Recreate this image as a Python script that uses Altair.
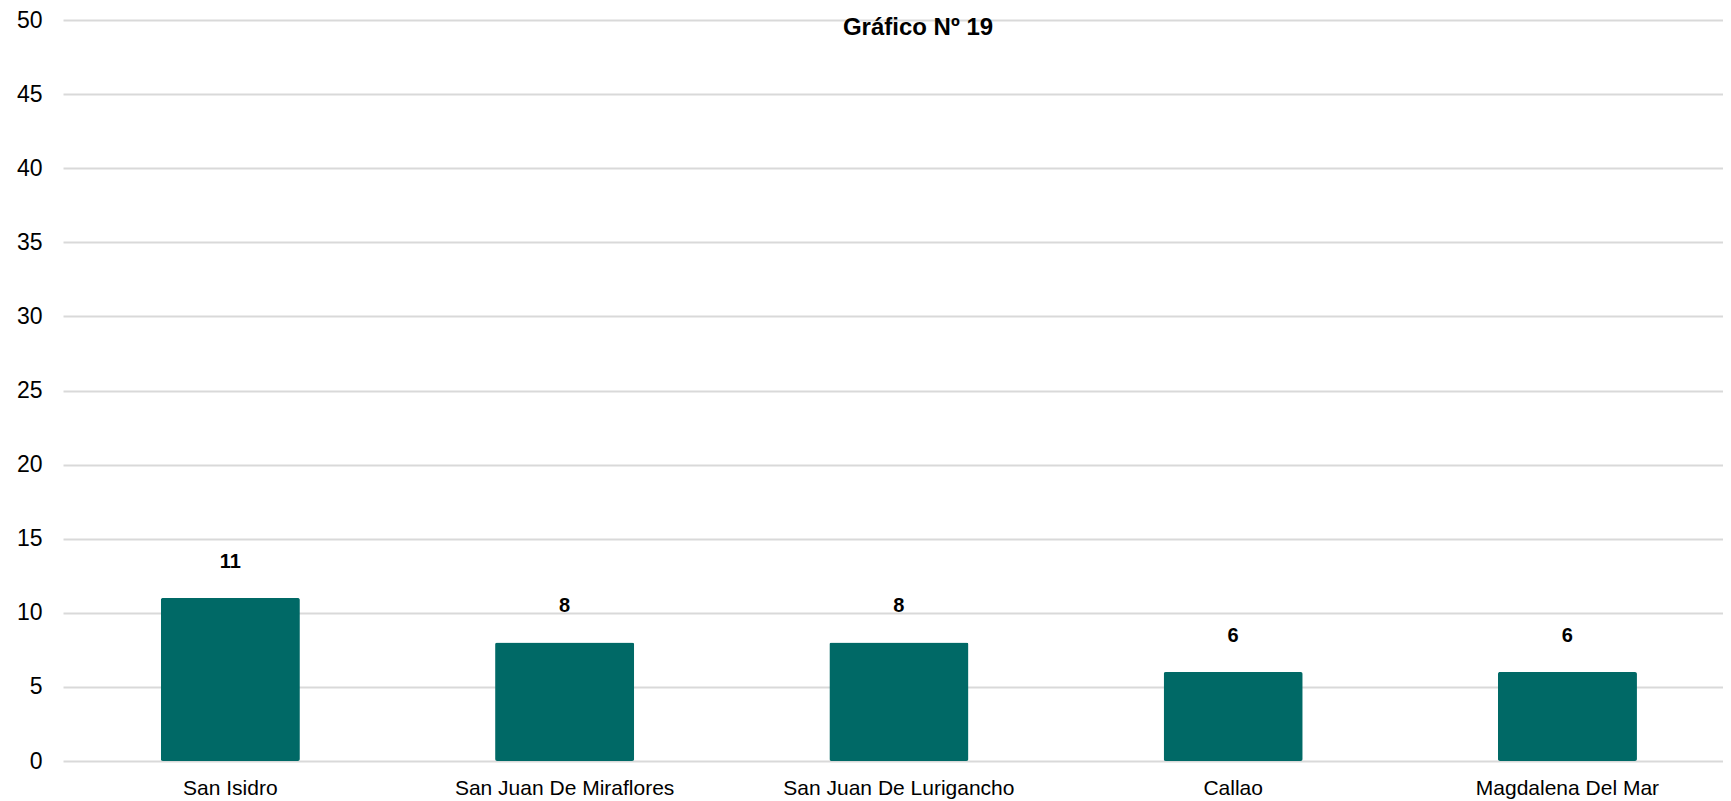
import altair as alt
import pandas as pd

categories = ["San Isidro", "San Juan De Miraflores", "San Juan De Lurigancho", "Callao", "Magdalena Del Mar"]
values = [11, 8, 8, 6, 6]
title_lines = ["Gráfico Nº 19"]
y_ticks = list(range(0, 51, 5))

df = pd.DataFrame({"distrito": categories, "casos": values})
tdf = pd.DataFrame({"t": title_lines})

FONT = "Liberation Sans"

x_enc = alt.X(
    "distrito:N",
    sort=categories,
    scale=alt.Scale(paddingInner=0.584, paddingOuter=0.275, align=0.532),
    axis=alt.Axis(
        title=None, labelAngle=0, labelFontSize=21, labelColor="#000000", labelFont=FONT,
        labelPadding=16, labelLimit=0, domain=False, ticks=False, grid=False,
    ),
)
y_enc = alt.Y(
    "casos:Q",
    scale=alt.Scale(domain=[0, 50], nice=False),
    axis=alt.Axis(
        title=None, values=y_ticks, labelFontSize=23, labelColor="#000000", labelFont=FONT,
        labelPadding=21, domain=False, ticks=False, grid=True, gridColor="#d9d9d9", gridWidth=2,
    ),
)

bars = alt.Chart(df).mark_bar(color="#006966", cornerRadius=2).encode(x=x_enc, y=y_enc)

labels = alt.Chart(df).mark_text(
    fontSize=20, fontWeight="bold", font=FONT, color="#000000", baseline="middle", dy=-36
).encode(x=alt.X("distrito:N", sort=categories), y=alt.Y("casos:Q"), text=alt.Text("casos:Q"))

title = alt.Chart(tdf).mark_text(
    fontSize=24, fontWeight="bold", font=FONT, color="#000000", align="center", baseline="alphabetic"
).encode(x=alt.value(855), y=alt.value(15), text="t:N")

chart = alt.layer(bars, labels, title).properties(
    width=1660, height=741,
    autosize=alt.AutoSizeParams(type="none"),
    padding={"left": 55, "top": 12, "right": 0, "bottom": 38},
).configure_view(stroke=None)

chart.save("out.html", embed_options={"renderer": "svg", "actions": False})
